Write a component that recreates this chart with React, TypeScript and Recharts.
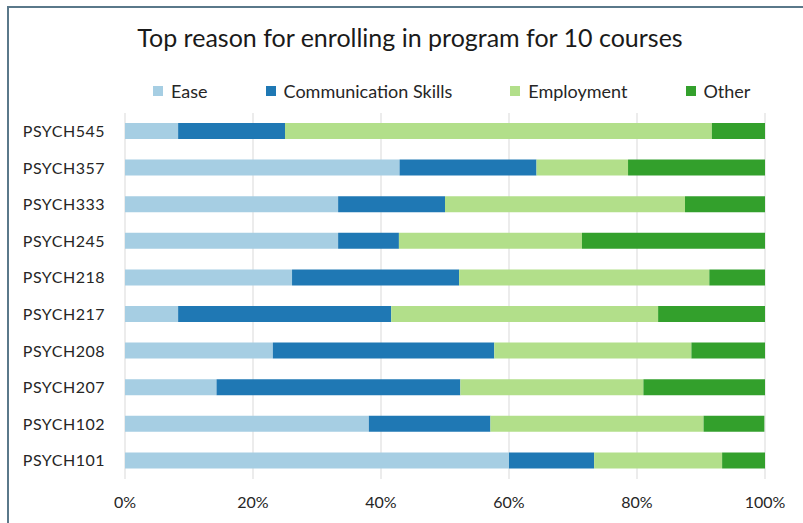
import { Bar, BarChart, CartesianGrid, XAxis, YAxis } from "recharts";

const courses = [
  "PSYCH545",
  "PSYCH357",
  "PSYCH333",
  "PSYCH245",
  "PSYCH218",
  "PSYCH217",
  "PSYCH208",
  "PSYCH207",
  "PSYCH102",
  "PSYCH101",
];

// share of students (%) per course
const ease = [8.3, 42.9, 33.3, 33.3, 26.1, 8.3, 23.1, 14.3, 38.1, 60.0];
const communication = [16.7, 21.4, 16.7, 9.5, 26.1, 33.3, 34.6, 38.1, 19.0, 13.3];
const employment = [66.7, 14.3, 37.5, 28.6, 39.1, 41.7, 30.8, 28.6, 33.3, 20.0];
const other = [8.3, 21.4, 12.5, 28.6, 8.7, 16.7, 11.5, 19.0, 9.5, 6.7];

const xTicks = [0, 20, 40, 60, 80, 100];

const seriesNames = ["Ease", "Communication Skills", "Employment", "Other"];
const seriesKeys = ["ease", "communication", "employment", "other"];
const seriesColors = ["#a6cee3", "#1f78b4", "#b2df8a", "#33a02c"];

const data = courses.map((course, i) => ({
  course,
  ease: ease[i],
  communication: communication[i],
  employment: employment[i],
  other: other[i],
}));

const FONT = "Lato, 'Open Sans', sans-serif";
const TEXT = "#262626";

export default function App() {
  return (
    <div
      style={{
        position: "absolute",
        left: 0,
        top: 0,
        width: 803,
        height: 523,
        background: "#fff",
        overflow: "hidden",
        fontFamily: FONT,
      }}
    >
      <div
        style={{
          position: "absolute",
          left: 7,
          top: 6,
          width: 820,
          height: 540,
          borderTop: "2px solid #5a788a",
          borderLeft: "2px solid #5a788a",
        }}
      />
      <div
        style={{
          position: "absolute",
          left: 0,
          top: 21,
          width: 820,
          textAlign: "center",
          fontSize: 25,
          color: "#1a1a1a",
          lineHeight: "32px",
        }}
      >
        Top reason for enrolling in program for 10 courses
      </div>
      <div
        style={{
          position: "absolute",
          left: 153,
          top: 80,
          display: "flex",
          alignItems: "center",
          gap: 58,
          fontSize: 18,
          color: TEXT,
          lineHeight: "22px",
        }}
      >
        {seriesNames.map((name, i) => (
          <div key={name} style={{ display: "flex", alignItems: "center" }}>
            <span
              style={{
                width: 10,
                height: 10,
                background: seriesColors[i],
                marginRight: 8,
                display: "inline-block",
              }}
            />
            <span>{name}</span>
          </div>
        ))}
      </div>
      <div style={{ position: "absolute", left: 0, top: 0 }}>
        <BarChart
          width={803}
          height={523}
          data={data}
          layout="vertical"
          margin={{ top: 113, right: 38, bottom: 14, left: 0 }}
          barSize={16}
        >
          <CartesianGrid stroke="#d9d9d9" horizontal={false} />
          <XAxis
            type="number"
            domain={[0, 100]}
            ticks={xTicks}
            tickFormatter={(v) => `${v}%`}
            height={30}
            axisLine={false}
            tickLine={false}
            tickSize={0}
            tickMargin={18}
            tick={{ fontSize: 16, fill: TEXT, fontFamily: FONT }}
            allowDataOverflow
          />
          <YAxis
            type="category"
            dataKey="course"
            width={125}
            axisLine={false}
            tickLine={false}
            tickSize={0}
            tickMargin={20}
            tick={{ fontSize: 16, fill: TEXT, fontFamily: FONT, letterSpacing: 0.5 }}
          />
          {seriesKeys.map((key, i) => (
            <Bar
              key={key}
              dataKey={key}
              name={seriesNames[i]}
              stackId="a"
              fill={seriesColors[i]}
              isAnimationActive={false}
            />
          ))}
        </BarChart>
      </div>
    </div>
  );
}
